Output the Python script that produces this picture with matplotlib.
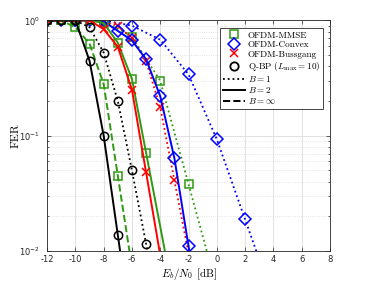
import numpy as np
import matplotlib
matplotlib.use("Agg")
import matplotlib.pyplot as plt
from matplotlib.lines import Line2D

plt.rcParams['mathtext.fontset'] = 'cm'

# ---- data ----
# Q-BP
qbp_b1_x = [-12, -11, -10, -9, -8, -7, -6, -5]
qbp_b1_y = [1.0, 1.0, 1.0, 0.87, 0.525, 0.20, 0.050, 0.0115]
qbp_b2_x = [-12, -11, -10, -9, -8, -7]
qbp_b2_y = [1.0, 1.0, 1.0, 0.447, 0.10, 0.0138]

# OFDM-MMSE
mmse_binf_x = [-12, -11, -10, -9, -8, -7]
mmse_binf_y = [1.0, 1.0, 0.87, 0.63, 0.28, 0.045]
mmse_b2_x = [-12, -11, -10, -9, -8, -7, -6, -5]
mmse_b2_y = [1.0, 1.0, 1.0, 1.0, 0.95, 0.64, 0.31, 0.071]
mmse_b1_x = [-12, -10, -8, -6, -4, -2]
mmse_b1_y = [1.0, 1.0, 0.99, 0.72, 0.30, 0.038]

# OFDM-Bussgang
buss_b2_x = [-12, -11, -10, -9, -8, -7, -6, -5]
buss_b2_y = [1.0, 1.0, 1.0, 1.0, 0.84, 0.59, 0.25, 0.048]
buss_b1_x = [-12, -11, -10, -9, -8, -7, -6, -5, -4, -3]
buss_b1_y = [1.0, 1.0, 1.0, 1.0, 0.98, 0.90, 0.70, 0.44, 0.176, 0.041]

# OFDM-Convex
cvx_b2_x = [-12, -11, -10, -9, -8, -7, -6, -5, -4, -3, -2]
cvx_b2_y = [1.0, 1.0, 1.0, 1.0, 0.98, 0.81, 0.67, 0.46, 0.22, 0.064, 0.011]
cvx_b1_x = [-12, -10, -8, -6, -4, -2, 0, 2]
cvx_b1_y = [1.0, 1.0, 1.0, 0.90, 0.68, 0.34, 0.093, 0.0188]

xticks = [-12, -10, -8, -6, -4, -2, 0, 2, 4, 6, 8]

GREEN = '#2e9a12'
BLUE = '#0000ff'
RED = '#ff0000'
BLACK = '#000000'

def ext(xs, ys, n=1):
    # extend last segment (straight in log scale) to below the axis bottom
    x1, x0 = xs[-1], xs[-1 - n]
    ly1, ly0 = np.log10(ys[-1]), np.log10(ys[-1 - n])
    slope = (ly1 - ly0) / (x1 - x0)
    xe = x1 + (-2.3 - ly1) / slope
    return list(xs) + [xe], list(ys) + [10 ** -2.3]

fig = plt.figure(figsize=(3.65, 2.83), dpi=100)
ax = fig.add_axes([0.129, 0.113, 0.775, 0.815])

ms = 6
mew = 1.1
lw = 1.4

def curve(xs, ys, color, ls, marker, lwid=lw):
    xe, ye = ext(xs, ys)
    ax.plot(xe, ye, color=color, ls=ls, lw=lwid)
    ax.plot(xs, ys, color=color, ls='none', marker=marker, ms=ms,
            mfc='none', mec=color, mew=mew)

curve(cvx_b1_x, cvx_b1_y, BLUE, ':', 'D', lwid=1.3)
curve(mmse_b1_x, mmse_b1_y, GREEN, ':', 's', lwid=1.3)
curve(buss_b1_x, buss_b1_y, RED, ':', 'x', lwid=1.3)
curve(cvx_b2_x, cvx_b2_y, BLUE, '-', 'D')
curve(mmse_b2_x, mmse_b2_y, GREEN, '-', 's')
curve(buss_b2_x, buss_b2_y, RED, '-', 'x')
curve(mmse_binf_x, mmse_binf_y, GREEN, '--', 's')
curve(qbp_b1_x, qbp_b1_y, BLACK, ':', 'o', lwid=1.3)
curve(qbp_b2_x, qbp_b2_y, BLACK, '-', 'o')

ax.set_yscale('log')
ax.set_xlim(-12, 8)
ax.set_ylim(1e-2, 1.0)
ax.set_xticks(xticks)
ax.set_xticklabels([str(t) for t in xticks])
ax.grid(True, which='major', color='#dcdcdc', lw=0.6, ls='-')
ax.grid(True, which='minor', color='#dcdcdc', lw=0.6, ls=':')
ax.tick_params(which='both', direction='in', top=True, right=True,
               labelsize=6, colors='#262626', length=3, width=0.5)
ax.tick_params(axis='x', pad=3)
ax.tick_params(axis='y', pad=5)
ax.tick_params(which='minor', length=1.5)
for s in ax.spines.values():
    s.set_color('#262626')
    s.set_linewidth(0.6)
for lab in ax.get_xticklabels() + ax.get_yticklabels():
    lab.set_fontfamily('DejaVu Sans')

ax.set_xlabel(r'$E_b/N_0$ [dB]', fontsize=8, family='cmr10', labelpad=1)
ax.set_ylabel('FER', fontsize=8.5, family='cmr10')
ax.yaxis.set_label_coords(-0.095, 0.5)

handles = [
    Line2D([], [], ls='none', marker='s', mfc='none', mec=GREEN, mew=mew, ms=ms),
    Line2D([], [], ls='none', marker='D', mfc='none', mec=BLUE, mew=mew, ms=ms),
    Line2D([], [], ls='none', marker='x', mfc='none', mec=RED, mew=mew, ms=ms),
    Line2D([], [], ls='none', marker='o', mfc='none', mec=BLACK, mew=1.3, ms=ms),
    Line2D([], [], color=BLACK, ls=':', lw=1.3),
    Line2D([], [], color=BLACK, ls='-', lw=1.4),
    Line2D([], [], color=BLACK, ls='--', lw=1.4),
]
labels = ['OFDM-MMSE', 'OFDM-Convex', 'OFDM-Bussgang',
          r'Q-BP ($L_{\max}=10$)', r'$B=1$', r'$B=2$', r'$B=\infty$']
leg = ax.legend(handles, labels, loc='upper right',
                prop={'family': 'cmr10', 'size': 6.6},
                frameon=True, fancybox=False, framealpha=1,
                edgecolor='#262626', handlelength=2.4, handletextpad=0.3,
                labelspacing=0.12, borderpad=0.3, borderaxespad=0,
                bbox_to_anchor=(0.975, 0.965))
leg.get_frame().set_linewidth(0.6)

fig.savefig('out.png', dpi=100)
